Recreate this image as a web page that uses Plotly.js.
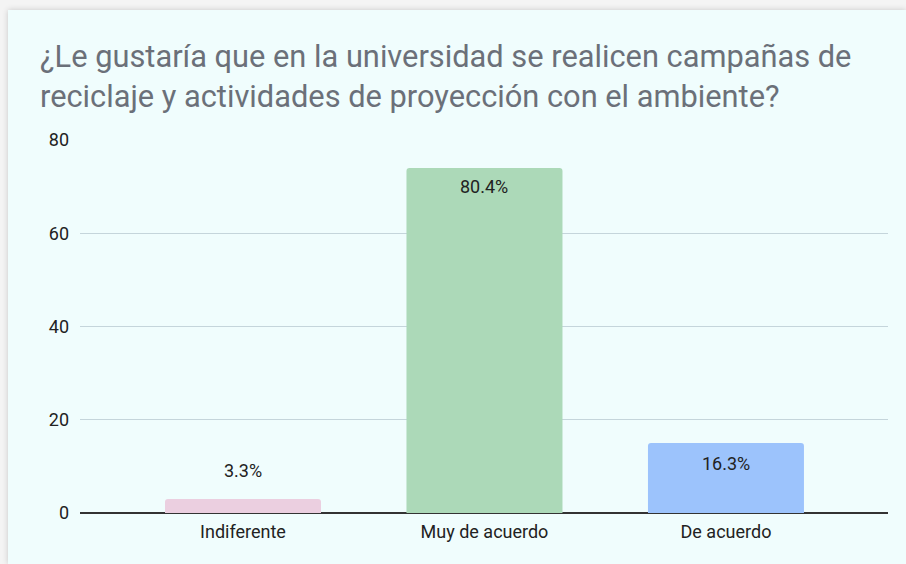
<!DOCTYPE html>
<html><head><meta charset="utf-8">
<script src="https://cdn.plot.ly/plotly-3.0.1.min.js"></script>
<style>
html,body{margin:0;padding:0;background:#f4f4f4;width:906px;height:564px;overflow:hidden;}
#card{position:absolute;left:8px;top:10px;width:898px;height:554px;background:#f0fdfd;box-shadow:0 0 6px rgba(0,0,0,0.18);}
#chart{width:898px;height:554px;}
</style></head>
<body><div id="card"><div id="chart"></div></div>
<script>
const categories = ["Indiferente", "Muy de acuerdo", "De acuerdo"];
const counts = [3, 74, 15];
const labels = ["3.3%", "80.4%", "16.3%"];
const colors = ["#ebcfe0", "#acd9b8", "#9cc3fc"];
const labelShift = [29, -19, -20];
const yTicks = [0, 20, 40, 60, 80];

const trace = {
  type: "bar",
  x: categories,
  y: counts,
  width: 0.646,
  marker: {color: colors, cornerradius: 3, line: {width: 0}},
  hoverinfo: "none"
};

const annotations = categories.map((c, i) => ({
  x: c, y: counts[i], xref: "x", yref: "y",
  text: labels[i], showarrow: false, yshift: labelShift[i],
  yanchor: "middle",
  font: {family: "Roboto, Arial, sans-serif", size: 18, color: "#222222"}
}));

const layout = {
  width: 898, height: 554,
  paper_bgcolor: "#f0fdfd", plot_bgcolor: "#f0fdfd",
  margin: {l: 72, r: 18, t: 130, b: 51},
  title: {
    text: "¿Le gustaría que en la universidad se realicen campañas de<br>reciclaje y actividades de proyección con el ambiente?",
    x: 32/898, xref: "container", xanchor: "left",
    y: 1 - 57/554, yref: "container", yanchor: "top",
    font: {family: "Roboto, Arial, sans-serif", size: 30.8, color: "#6b7079"}
  },
  xaxis: {
    range: [-0.675, 2.671], showgrid: false, zeroline: false,
    showline: false, ticks: "", ticklabelstandoff: 6,
    tickfont: {family: "Roboto, Arial, sans-serif", size: 18, color: "#222222"}
  },
  yaxis: {
    range: [0, 80], tickvals: yTicks, showgrid: true, gridcolor: "#c5d5db", gridwidth: 1,
    zeroline: true, zerolinecolor: "#333333", zerolinewidth: 1.5,
    ticks: "", ticklabelstandoff: 10,
    tickfont: {family: "Roboto, Arial, sans-serif", size: 18, color: "#222222"}
  },
  annotations: annotations,
  showlegend: false,
  bargap: 0.354
};

Plotly.newPlot("chart", [trace], layout, {displayModeBar: false, staticPlot: true});
</script></body></html>
